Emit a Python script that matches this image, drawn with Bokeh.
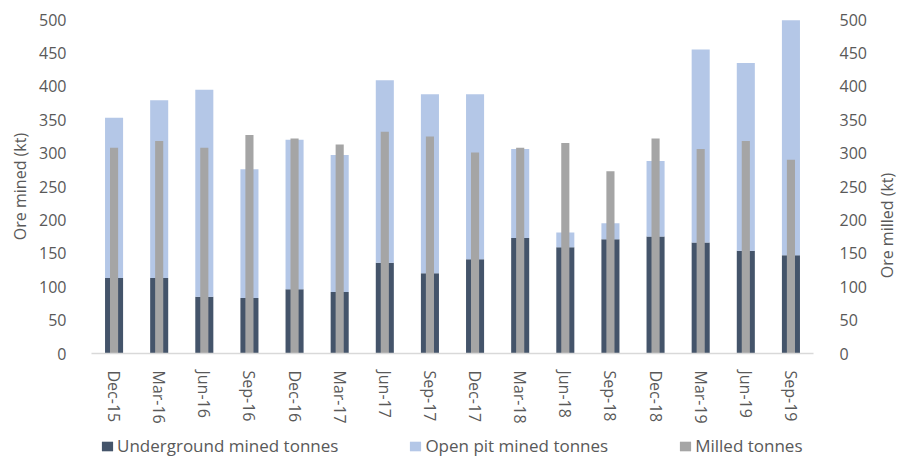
import math
from bokeh.plotting import figure
from bokeh.layouts import column, row
from bokeh.models import (FactorRange, Range1d, LinearAxis, FixedTicker, Legend,
                          LegendItem, ColumnDataSource, Label)
from bokeh.embed import file_html
from bokeh.resources import INLINE

quarters = ["Dec-15", "Mar-16", "Jun-16", "Sep-16", "Dec-16", "Mar-17", "Jun-17", "Sep-17",
            "Dec-17", "Mar-18", "Jun-18", "Sep-18", "Dec-18", "Mar-19", "Jun-19", "Sep-19"]
underground = [113, 113, 85, 83, 96, 92, 136, 120, 141, 173, 159, 171, 175, 166, 154, 147]
open_pit = [240, 266, 310, 193, 224, 205, 273, 268, 247, 133, 22, 24, 113, 289, 281, 352]
milled = [308, 318, 308, 327, 322, 313, 332, 325, 301, 308, 315, 273, 322, 306, 318, 290]
y_ticks = [0, 50, 100, 150, 200, 250, 300, 350, 400, 450, 500]
series_names = ["Underground mined tonnes", "Open pit mined tonnes", "Milled tonnes"]

FONT = "Open Sans"
TXT = "#595959"
C_UG = "#44546A"
C_OP = "#B4C7E7"
C_MILL = "#A5A5A5"

src = ColumnDataSource(dict(q=quarters, ug=underground, op=open_pit, mill=milled))

p = figure(width=872, height=433, x_range=FactorRange(*quarters, range_padding=0),
           y_range=Range1d(0, 500), output_backend="svg", toolbar_location=None,
           min_border_left=91, min_border_right=59, min_border_top=19, min_border_bottom=80)
p.extra_y_ranges = {"milled": Range1d(0, 500)}

r_stack = p.vbar_stack(["ug", "op"], x="q", width=0.4, source=src,
                       color=[C_UG, C_OP], line_color=None)
r_mill = p.vbar(x="q", top="mill", width=0.18, source=src, y_range_name="milled",
                fill_color=C_MILL, line_color=None)

p.grid.visible = False
p.outline_line_color = None
p.background_fill_color = "white"
p.border_fill_color = "white"

# bottom axis
xa = p.xaxis[0]
xa.axis_line_color = "#D9D9D9"
xa.axis_line_width = 1.5
xa.major_tick_line_color = None
xa.minor_tick_line_color = None
xa.major_label_orientation = -math.pi / 2
xa.major_label_standoff = 11
xa.major_label_text_font = FONT
xa.major_label_text_font_size = "16px"
xa.major_label_text_color = TXT

# left axis
ya = p.yaxis[0]
ya.ticker = FixedTicker(ticks=y_ticks)
ya.axis_line_color = None
ya.major_tick_line_color = None
ya.minor_tick_line_color = None
ya.major_label_standoff = 19
ya.major_label_text_font = FONT
ya.major_label_text_font_size = "16px"
ya.major_label_text_color = TXT
ya.axis_label = "Ore mined (kt)"
ya.axis_label_text_font = FONT
ya.axis_label_text_font_size = "16px"
ya.axis_label_text_font_style = "normal"
ya.axis_label_text_color = TXT
ya.axis_label_standoff = 5

# right axis (title drawn in a narrow strip to read bottom-to-top)
ra = LinearAxis(y_range_name="milled", ticker=FixedTicker(ticks=y_ticks))
ra.axis_line_color = None
ra.major_tick_line_color = None
ra.minor_tick_line_color = None
ra.major_label_standoff = 20
ra.major_label_text_font = FONT
ra.major_label_text_font_size = "16px"
ra.major_label_text_color = TXT
p.add_layout(ra, "right")

t = figure(width=25, height=433, x_range=Range1d(0, 1), y_range=Range1d(0, 1),
           output_backend="svg", toolbar_location=None,
           x_axis_location=None, y_axis_location=None,
           min_border_left=0, min_border_right=0, min_border_top=0, min_border_bottom=0)
t.grid.visible = False
t.outline_line_color = None
t.add_layout(Label(x=14, y=128, x_units="screen", y_units="screen", text="Ore milled (kt)",
                   angle=math.pi / 2, text_align="center", text_baseline="middle",
                   text_font=FONT, text_font_size="16px", text_color=TXT))

# legend strip
lg = figure(width=897, height=24, x_range=Range1d(0, 1), y_range=Range1d(0, 1),
            output_backend="svg", toolbar_location=None,
            x_axis_location=None, y_axis_location=None,
            min_border_left=0, min_border_right=0, min_border_top=0, min_border_bottom=0)
lg.grid.visible = False
lg.outline_line_color = None
lg.border_fill_color = "white"
offscreen = ColumnDataSource(dict(x=[5], y=[5]))
items = []
for name, col in zip(series_names, [C_UG, C_OP, C_MILL]):
    rr = lg.vbar(x="x", top="y", bottom=4, width=0.01, source=offscreen,
                 fill_color=col, line_color=None)
    items.append(LegendItem(label=name, renderers=[rr]))
legend = Legend(items=items, orientation="horizontal", location=(100, 0), spacing=70,
                padding=0, margin=0, label_standoff=3, glyph_width=14, glyph_height=12,
                label_height=16, label_text_font=FONT, label_text_font_size="17px",
                label_text_color=TXT, border_line_alpha=0, background_fill_alpha=0)
lg.add_layout(legend, "center")

layout = column(row(p, t, spacing=0), lg, spacing=0)
open("out.html", "w").write(file_html(layout, INLINE))
